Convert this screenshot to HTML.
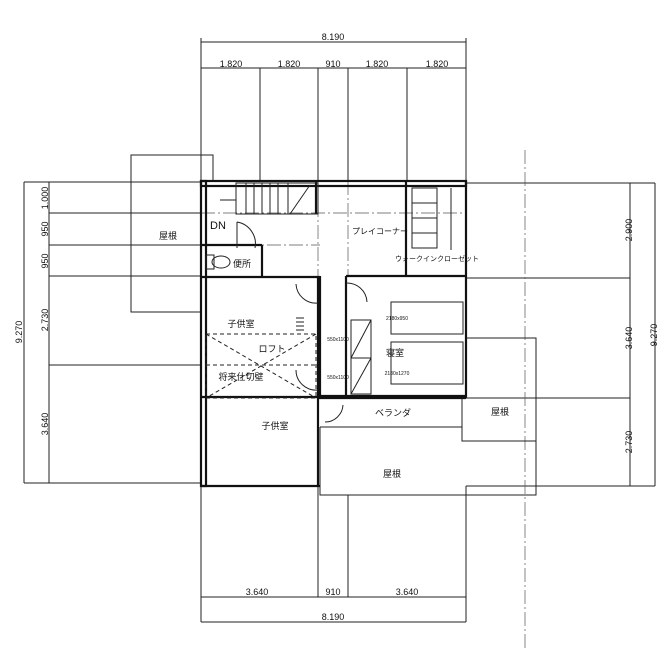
<!DOCTYPE html>
<html><head><meta charset="utf-8"><style>
html,body{margin:0;padding:0;background:#fff;}
svg{display:block;font-family:"Liberation Sans","Noto Sans CJK JP",sans-serif;}
</style></head><body>
<svg width="657" height="650" viewBox="0 0 657 650" xmlns="http://www.w3.org/2000/svg">
<rect width="657" height="650" fill="#fff"/>
<g stroke="#222" stroke-width="1" fill="none">
<!-- top dims -->
<line x1="201" y1="42" x2="466" y2="42"/>
<line x1="201" y1="68" x2="466" y2="68"/>
<line x1="201" y1="38" x2="201" y2="181"/>
<line x1="466" y1="38" x2="466" y2="181"/>
<line x1="260" y1="68" x2="260" y2="181"/>
<line x1="318" y1="68" x2="318" y2="181"/>
<line x1="348" y1="68" x2="348" y2="181"/>
<line x1="407" y1="68" x2="407" y2="181"/>
<!-- bottom dims -->
<line x1="201" y1="597" x2="466" y2="597"/>
<line x1="201" y1="622" x2="466" y2="622"/>
<line x1="201" y1="486" x2="201" y2="622"/>
<line x1="466" y1="486" x2="466" y2="622"/>
<line x1="318" y1="486" x2="318" y2="597"/>
<line x1="348" y1="495" x2="348" y2="597"/>
<!-- left dims -->
<line x1="24" y1="182" x2="24" y2="483"/>
<line x1="49" y1="182" x2="49" y2="483"/>
<line x1="24" y1="182" x2="201" y2="182"/>
<line x1="49" y1="213" x2="201" y2="213"/>
<line x1="49" y1="245" x2="201" y2="245"/>
<line x1="49" y1="276" x2="201" y2="276"/>
<line x1="49" y1="365" x2="201" y2="365"/>
<line x1="24" y1="483" x2="201" y2="483"/>
<!-- right dims -->
<line x1="630" y1="183" x2="630" y2="486"/>
<line x1="655" y1="183" x2="655" y2="486"/>
<line x1="466" y1="183" x2="655" y2="183"/>
<line x1="466" y1="278" x2="630" y2="278"/>
<line x1="466" y1="398" x2="630" y2="398"/>
<line x1="466" y1="486" x2="655" y2="486"/>
<!-- grid extension (light) -->
<g stroke="#555" stroke-width="0.7" stroke-dasharray="14 3 2 3">
<line x1="525" y1="150" x2="525" y2="650"/>
<line x1="318" y1="181" x2="318" y2="486"/>
<line x1="348" y1="181" x2="348" y2="276"/>
<line x1="201" y1="213" x2="466" y2="213"/>
<line x1="201" y1="245" x2="320" y2="245"/>
</g>
<!-- left roof -->
<polyline points="213,181 213,155 131,155 131,312 201,312"/>
<!-- right roof -->
<polyline points="462,398 462,441 536,441 536,495 320,495 320,427"/>
<polyline points="466,338 536,338 536,441"/>
<line x1="320" y1="427" x2="462" y2="427"/>
</g>
<!-- walls -->
<g stroke="#111" stroke-width="2.2" fill="none">
<rect x="201" y="181" width="265" height="5"/>
<rect x="201" y="181" width="5" height="305"/>
<line x1="201" y1="486" x2="320" y2="486"/>
<line x1="318" y1="276" x2="318" y2="486"/>
<line x1="320" y1="276" x2="320" y2="398"/>
<line x1="466" y1="181" x2="466" y2="398"/>
<line x1="346" y1="276" x2="466" y2="276"/>
<line x1="346" y1="276" x2="346" y2="398"/>
<line x1="318" y1="396" x2="466" y2="396"/>
<line x1="318" y1="398" x2="466" y2="398"/>
<line x1="406" y1="181" x2="406" y2="276"/>
<line x1="201" y1="277" x2="320" y2="277"/>
<line x1="201" y1="245" x2="262" y2="245"/>
<line x1="262" y1="245" x2="262" y2="277"/>
<line x1="201" y1="397" x2="318" y2="397"/>
<line x1="316" y1="181" x2="316" y2="214"/>
</g>
<g stroke="#222" stroke-width="1" fill="none">
<!-- stairs -->
<rect x="236" y="183" width="82" height="31"/>
<line x1="246" y1="183" x2="246" y2="214"/><line x1="254" y1="183" x2="254" y2="214"/>
<line x1="262" y1="183" x2="262" y2="214"/><line x1="270" y1="183" x2="270" y2="214"/>
<line x1="278" y1="183" x2="278" y2="214"/><line x1="288" y1="183" x2="288" y2="214"/>
<line x1="290" y1="214" x2="310" y2="185"/>
<line x1="220" y1="200" x2="236" y2="200"/>
<path d="M237 222 v26 M237 222 A22 22 0 0 1 255 248"/>
<!-- closet -->
<rect x="412" y="188" width="25" height="60"/>
<line x1="412" y1="203" x2="437" y2="203"/><line x1="412" y1="218" x2="437" y2="218"/><line x1="412" y1="233" x2="437" y2="233"/>
<line x1="451" y1="188" x2="451" y2="250"/>
<!-- toilet -->
<rect x="206" y="255" width="8" height="14"/><ellipse cx="221" cy="262" rx="9" ry="6"/>
<!-- doors -->
<path d="M296 284 A20 20 0 0 0 318 303"/>
<path d="M346 283 A20 20 0 0 1 367 302"/>
<path d="M296 370 A20 20 0 0 0 318 390"/>
<path d="M343 405 A18 18 0 0 1 325 422"/>
<!-- beds -->
<rect x="391" y="302" width="72" height="32"/>
<rect x="391" y="342" width="72" height="42"/>
<rect x="351" y="320" width="20" height="38"/><line x1="351" y1="358" x2="371" y2="320"/>
<rect x="351" y="358" width="20" height="36"/><line x1="351" y1="394" x2="371" y2="358"/>
<!-- loft dashed -->
<g stroke-dasharray="4 3">
<rect x="206" y="334" width="110" height="64"/>
<line x1="206" y1="334" x2="316" y2="398"/>
<line x1="316" y1="334" x2="206" y2="398"/>
<line x1="206" y1="365" x2="316" y2="365"/>
</g>
<line x1="296" y1="318" x2="304" y2="318"/><line x1="296" y1="322" x2="304" y2="322"/><line x1="296" y1="326" x2="304" y2="326"/><line x1="296" y1="330" x2="304" y2="330"/>
</g>
<g fill="#111" font-size="9" text-anchor="middle">
<text x="333" y="40">8.190</text>
<text x="231" y="67">1.820</text><text x="289" y="67">1.820</text><text x="333" y="67">910</text>
<text x="377" y="67">1.820</text><text x="437" y="67">1.820</text>
<text x="257" y="595">3.640</text><text x="333" y="595">910</text><text x="407" y="595">3.640</text>
<text x="333" y="620">8.190</text>
<text transform="translate(22,332) rotate(-90)">9.270</text>
<text transform="translate(48,198) rotate(-90)">1.000</text>
<text transform="translate(48,229) rotate(-90)">950</text>
<text transform="translate(48,261) rotate(-90)">950</text>
<text transform="translate(48,320) rotate(-90)">2.730</text>
<text transform="translate(48,424) rotate(-90)">3.640</text>
<text transform="translate(632,230) rotate(-90)">2.900</text>
<text transform="translate(632,338) rotate(-90)">3.640</text>
<text transform="translate(632,442) rotate(-90)">2.730</text>
<text transform="translate(657,335) rotate(-90)">9.270</text>
<text x="168" y="239">屋根</text>
<text x="218" y="229" font-size="11">DN</text>
<text x="242" y="267">便所</text>
<text x="380" y="234" font-size="8">プレイコーナー</text>
<text x="437" y="261" font-size="7">ウォークインクローゼット</text>
<text x="241" y="327">子供室</text>
<text x="272" y="352">ロフト</text>
<text x="241" y="380">将来仕切壁</text>
<text x="275" y="429">子供室</text>
<text x="395" y="356">寝室</text>
<text x="397" y="320" font-size="5">2180x950</text>
<text x="397" y="375" font-size="5">2180x1270</text>
<text x="338" y="341" font-size="5">550x1100</text>
<text x="338" y="379" font-size="5">550x1100</text>
<text x="393" y="416">ベランダ</text>
<text x="500" y="415">屋根</text>
<text x="392" y="477">屋根</text>
</g>
</svg>
</body></html>
